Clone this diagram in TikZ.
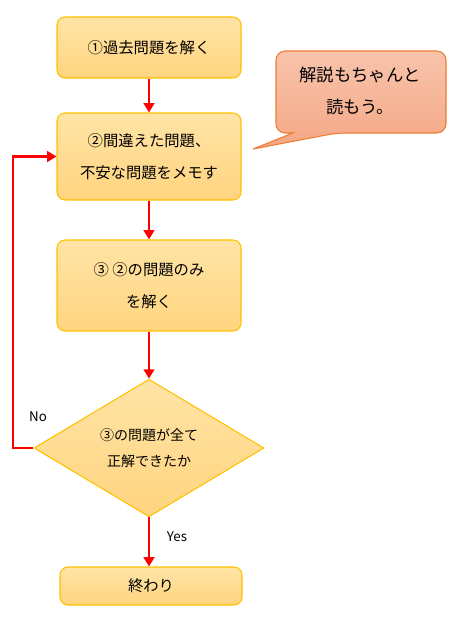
\documentclass[tikz,border=0pt]{standalone}
\usepackage{fontspec}
\setmainfont{Noto Sans CJK JP}
\usetikzlibrary{shapes.geometric,arrows.meta}
\definecolor{boxtop}{HTML}{FFE4A6}
\definecolor{boxbot}{HTML}{FFD47F}
\definecolor{boxline}{HTML}{FFC000}
\definecolor{caltop}{HTML}{F8C4AC}
\definecolor{calbot}{HTML}{F4A785}
\definecolor{calline}{HTML}{ED7D31}
\tikzset{
  flowbox/.style={draw=boxline, line width=0.8pt, rounded corners=6pt, top color=boxtop, bottom color=boxbot,
    minimum width=138pt, align=center, inner sep=0pt, font=\fontsize{11.5pt}{24pt}\selectfont},
  decide/.style={diamond, draw=boxline, line width=0.8pt, top color=boxtop, bottom color=boxbot,
    minimum width=172.5pt, minimum height=101pt, inner sep=0pt, align=center, font=\fontsize{10.5pt}{20pt}\selectfont},
  redarrow/.style={draw=red, line width=1.9pt, -{Triangle[width=8pt,length=7pt]}},
  lab/.style={font=\fontsize{10pt}{12pt}\selectfont},
  caltext/.style={align=center, font=\fontsize{13pt}{24pt}\selectfont}
}
\begin{document}
\begin{tikzpicture}[x=0.75pt,y=-0.75pt]
\useasboundingbox (0,0) rectangle (457,620);
\node[flowbox, minimum height=45.75pt] (b1) at (149,47.5) {①過去問題を解く};
\node[flowbox, minimum height=65.25pt] (b2) at (149,156.5) {②間違えた問題、\\不安な問題をメモす};
\node[flowbox, minimum height=68.25pt] (b3) at (149,285.5) {③ ②の問題のみ\\を解く};
\node[decide] (d) at (149,448) {③の問題が全て\\正解できたか};
\node[flowbox, minimum width=136.5pt, minimum height=28.5pt] (b4) at (151,586) {終わり};
% callout
\path[draw=calline, line width=0.8pt, top color=caltop, bottom color=calbot]
  (337,133) -- (253,149) -- (293,133) [rounded corners=7pt] -- (276,133) -- (276,51) -- (446,51) -- (446,133) -- cycle;
\node[caltext] (memo) at (360,91) {解説もちゃんと\\読もう。};
% connectors
\draw[redarrow] (b1.south) -- (b2.north);
\draw[redarrow] (b2.south) -- (b3.north);
\draw[redarrow] (b3.south) -- (d.north);
\draw[redarrow] (d.south) -- (d.south |- b4.north);
\coordinate (lp) at (13,448);
\draw[redarrow] (d.west) -- (lp) -- (lp |- b2.west) -- (b2.west);
\node[lab] (no) at (38,417) {No};
\node[lab] (yes) at (177,537) {Yes};
\end{tikzpicture}
\end{document}
